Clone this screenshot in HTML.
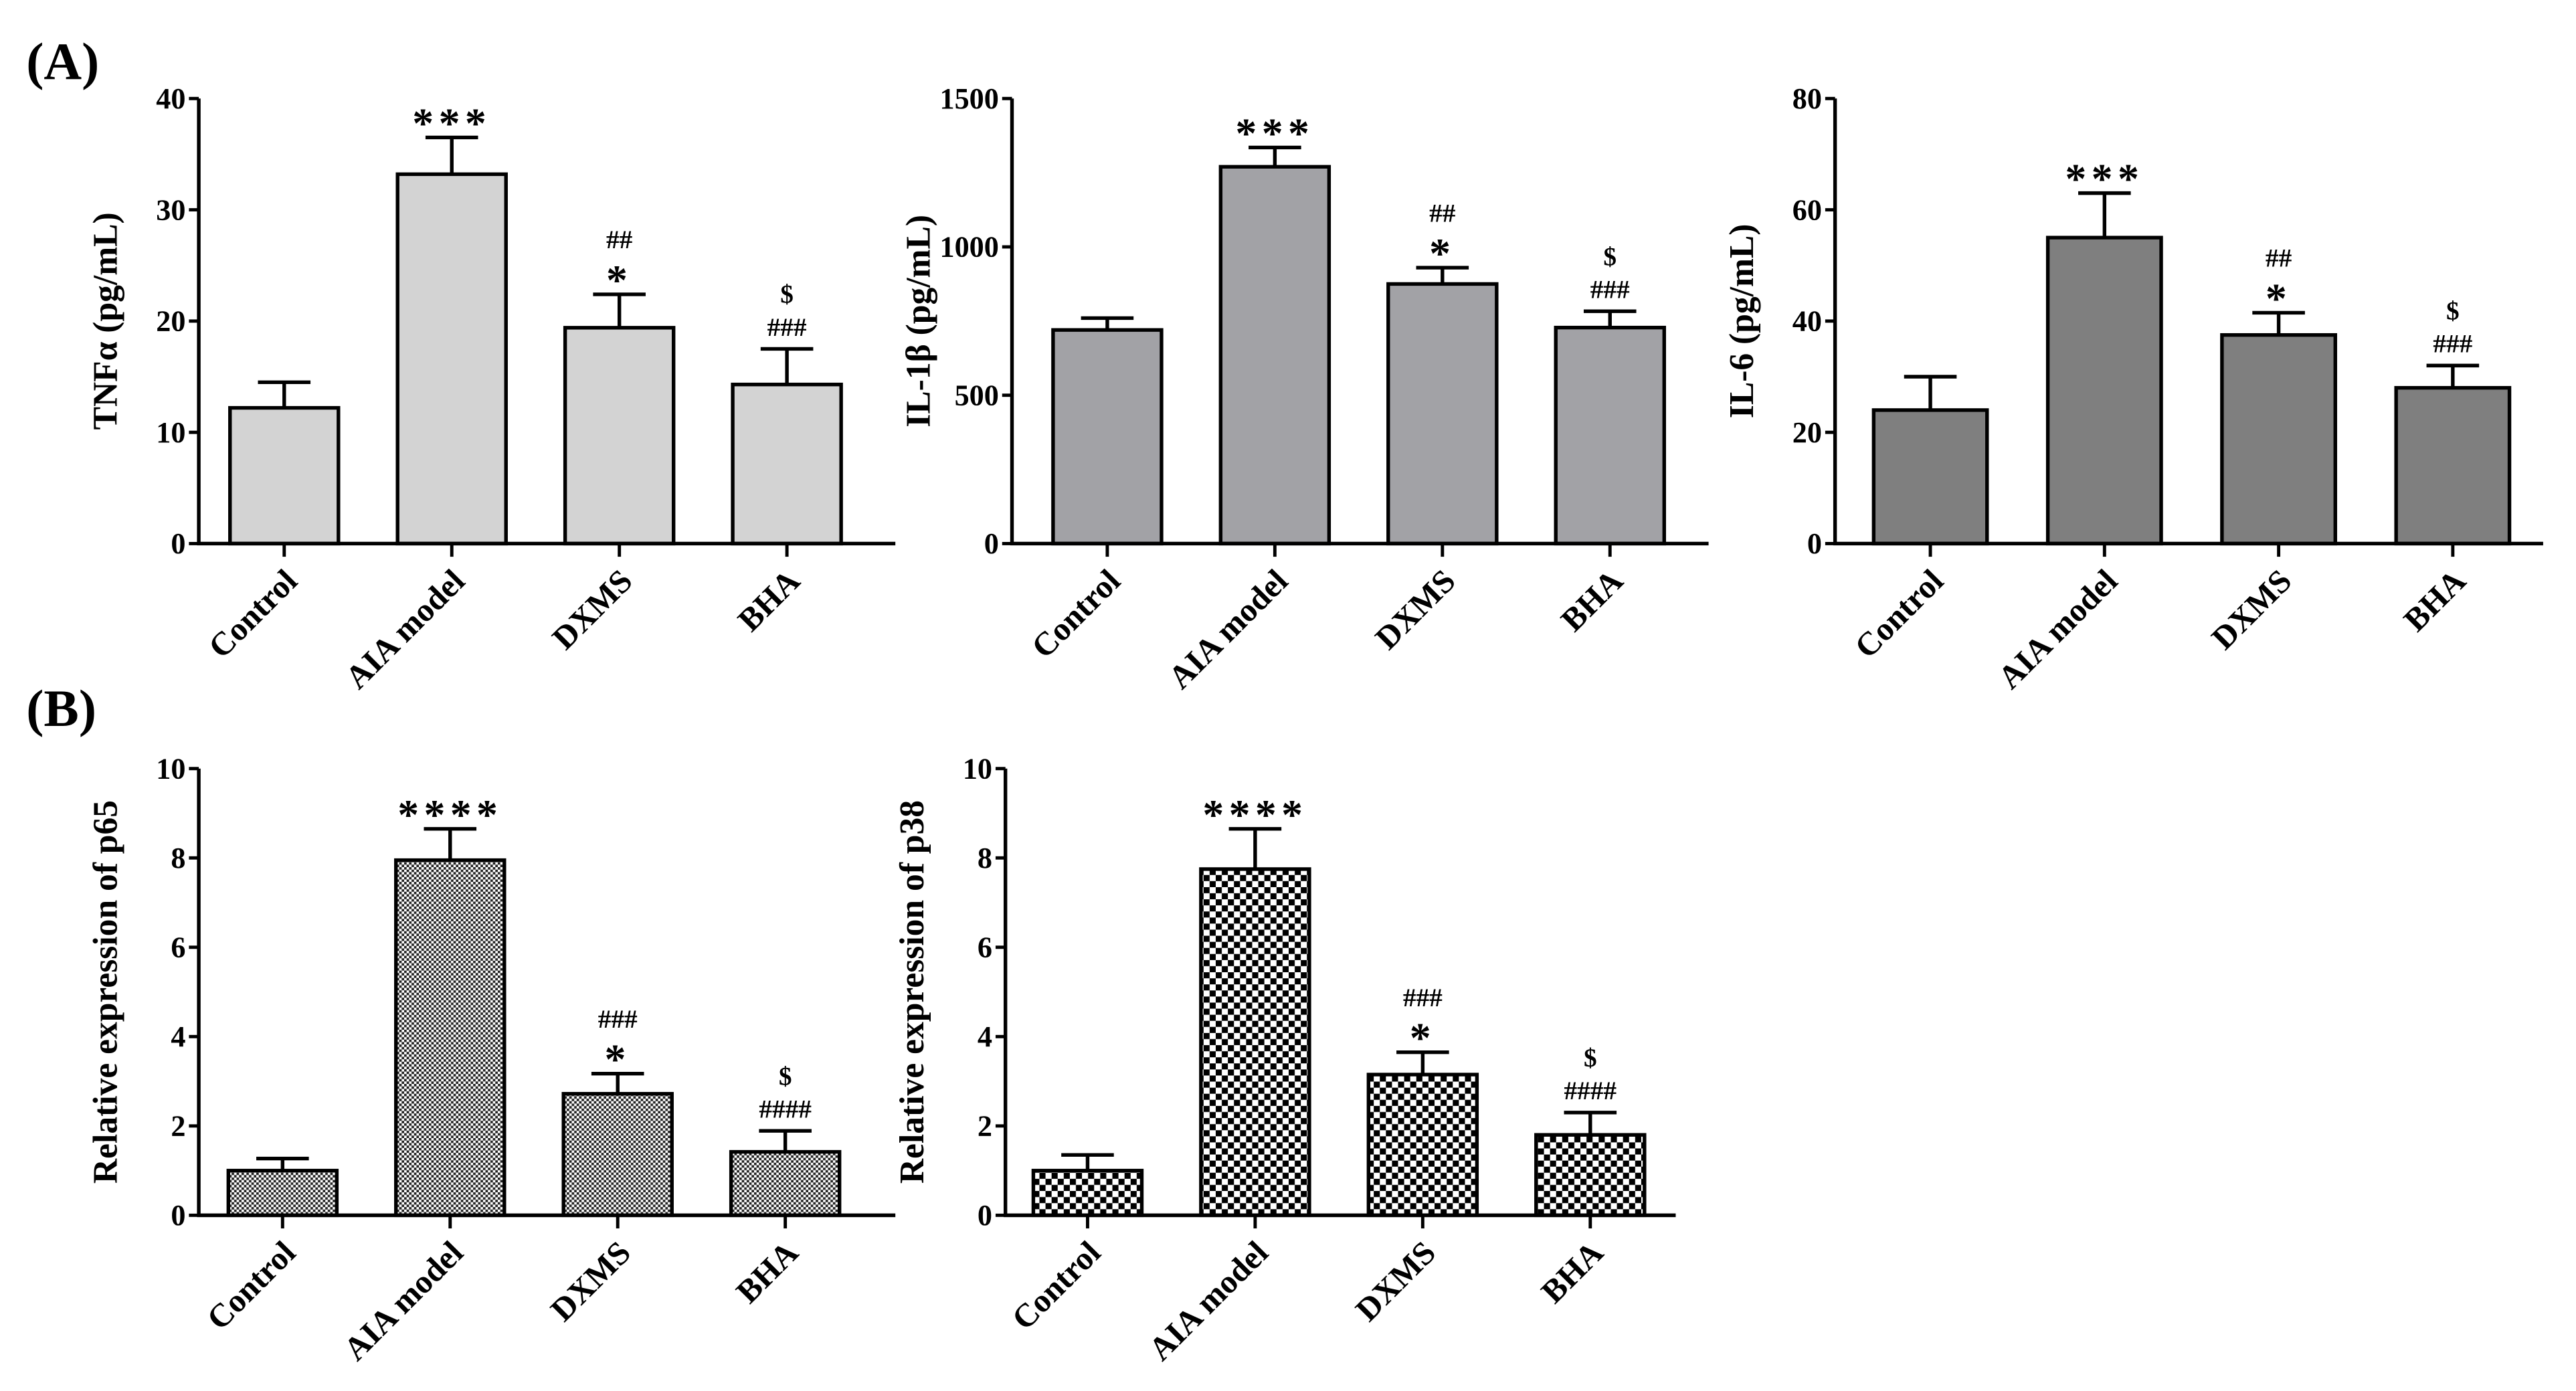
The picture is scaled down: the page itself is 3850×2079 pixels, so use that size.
<!DOCTYPE html>
<html><head><meta charset="utf-8"><style>
html,body{margin:0;padding:0;background:#fff;}
svg{display:block;}
text{font-family:"Liberation Serif","Times New Roman",serif;font-weight:bold;fill:#000;}
</style></head><body>
<svg id="fig" width="3850" height="2079" viewBox="0 0 1568 847" preserveAspectRatio="none" xmlns="http://www.w3.org/2000/svg">
<defs>
<pattern id="fine" width="3" height="3" patternUnits="userSpaceOnUse"><rect width="3" height="3" fill="#fff"/><rect width="1.5" height="1.5" fill="#222"/><rect x="1.5" y="1.5" width="1.5" height="1.5" fill="#222"/></pattern>
<pattern id="coarse" width="7.4" height="7.4" patternUnits="userSpaceOnUse"><rect width="7.4" height="7.4" fill="#fff"/><rect width="3.7" height="3.7" fill="#000"/><rect x="3.7" y="3.7" width="3.7" height="3.7" fill="#000"/></pattern>
</defs>
<text x="16" y="48" font-size="32">(A)</text>
<text x="16" y="442" font-size="32">(B)</text>
</svg>
<script>
const categories = ["Control","AIA model","DXMS","BHA"];
const tnfValues = [12.2,33.2,19.4,14.3];
const tnfErrors = [2.3,3.3,3.0,3.2];
const tnfTicks = [0,10,20,30,40];
const tnfAnnot = [[],["***"],["##","*"],["$","###"]];
const il1Values = [720,1270,875,728];
const il1Errors = [40,65,55,55];
const il1Ticks = [0,500,1000,1500];
const il1Annot = [[],["***"],["##","*"],["$","###"]];
const il6Values = [24,55,37.5,28];
const il6Errors = [6,8,4,4];
const il6Ticks = [0,20,40,60,80];
const il6Annot = [[],["***"],["##","*"],["$","###"]];
const p65Values = [1.0,7.95,2.72,1.42];
const p65Errors = [0.27,0.7,0.45,0.47];
const p65Ticks = [0,2,4,6,8,10];
const p65Annot = [[],["****"],["###","*"],["$","####"]];
const p38Values = [1.0,7.75,3.15,1.8];
const p38Errors = [0.35,0.9,0.5,0.5];
const p38Ticks = [0,2,4,6,8,10];
const p38Annot = [[],["****"],["###","*"],["$","####"]];

const NS="http://www.w3.org/2000/svg";
const svg=document.getElementById('fig');
function mk(tag,attrs,parent,txt){const e=document.createElementNS(NS,tag);for(const k in attrs)e.setAttribute(k,attrs[k]);if(txt!==undefined)e.textContent=txt;(parent||svg).appendChild(e);return e;}

function chart(id,L,R,T,B,bw,off,step,vals,errs,ticks,annots,fill,title){
  const g=mk('g',{});
  
  
  const ymax=ticks[ticks.length-1];
  const y=v=>B-(v/ymax)*(B-T);
  const x=i=>L+off+step*i;
  ticks.forEach(t=>{
    const tl=mk('line',{x1:L-6,x2:L,y1:y(t),y2:y(t),stroke:'#000','stroke-width':2},g);
    
    
    const tt=mk('text',{x:L-8,y:y(t)+6,'font-size':18,'text-anchor':'end'},g,String(t));
    
    
  });
  vals.forEach((v,i)=>{
    const cx=x(i);
    const e=y(v+errs[i]);
    const el=mk('path',{d:`M${cx},${y(v)}V${e}M${cx-16},${e}H${cx+16}`,stroke:'#000','stroke-width':2.2,fill:'none'},g);
    
    
    const r=mk('rect',{x:cx-bw/2,y:y(v),width:bw,height:B-y(v),fill:fill,stroke:'#000','stroke-width':2.2},g);
    
    
    const a=annots[i];
    a.forEach((s,k)=>{
      const isStar=s[0]==='*';
      const yy=e-8-(a.length-1-k)*20;
      const at=mk('text',{x:cx,y:yy+(isStar?8:0),'font-size':isStar?26:16,'font-weight':isStar?'bold':'normal','text-anchor':'middle','letter-spacing':isStar?3:0},g,s);
      
      
    });
    const xt=mk('line',{x1:cx,x2:cx,y1:B,y2:B+8,stroke:'#000','stroke-width':2},g);
    
    
    const lx=cx+9, ly=B+24;
    const lt=mk('text',{x:lx,y:ly,'font-size':20,'text-anchor':'end',transform:`rotate(-45 ${lx} ${ly})`},g,categories[i]);
    
    
  });
  const ax=mk('path',{d:`M${L},${T}V${B}H${R}`,stroke:'#000','stroke-width':2.2,fill:'none'},g);
  
  
  const tx=L-50, ty=(T+B)/2;
  const at=mk('text',{x:tx,y:ty,'font-size':21,'text-anchor':'middle',transform:`rotate(-90 ${tx} ${ty})`},g,title);
  
  
}
chart('tnf',121,545,60,331,66,52,102,tnfValues,tnfErrors,tnfTicks,tnfAnnot,'#d3d3d3','TNFα (pg/mL)');
chart('il1b',616,1040,60,331,66,58,102,il1Values,il1Errors,il1Ticks,il1Annot,'#a2a2a6','IL-1β (pg/mL)');
chart('il6',1117,1548,60,331,69,58,106,il6Values,il6Errors,il6Ticks,il6Annot,'#7f7f7f','IL-6 (pg/mL)');
chart('p65',121,545,468,740,66,51,102,p65Values,p65Errors,p65Ticks,p65Annot,'url(#fine)','Relative expression of p65');
chart('p38',612,1020,468,740,66,50,102,p38Values,p38Errors,p38Ticks,p38Annot,'url(#coarse)','Relative expression of p38');
</script>
</body></html>
